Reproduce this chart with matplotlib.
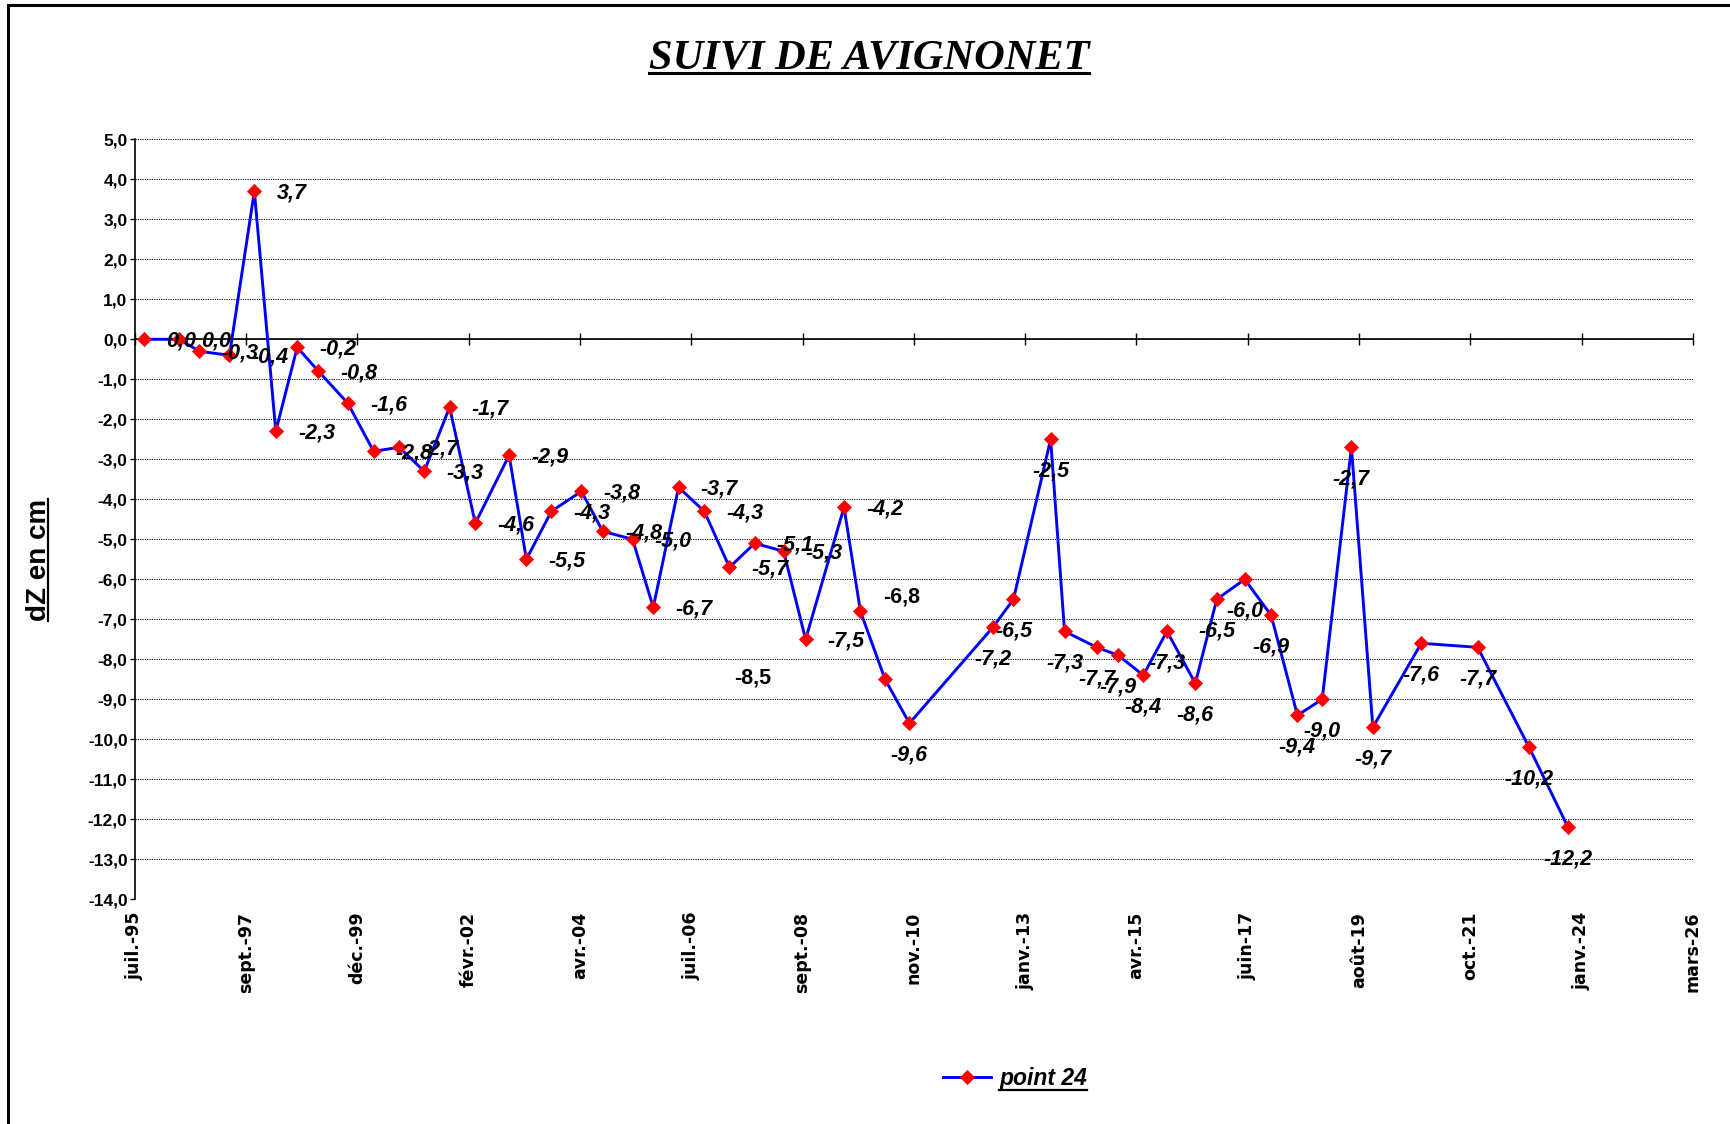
import matplotlib
matplotlib.use("Agg")
import numpy as np
import matplotlib.pyplot as plt
import matplotlib.dates as mdates
from matplotlib.lines import Line2D
from matplotlib.transforms import IdentityTransform

# Survey dates and vertical displacement (cm) of point 24
dates = [
    "1995-10-02", "1996-06-08", "1996-11-01", "1997-06-05", "1997-12-01",
    "1998-05-04", "1998-10-05", "1999-03-07", "1999-10-04", "2000-04-06",
    "2000-10-07", "2001-04-05", "2001-10-04", "2002-04-07", "2002-12-06",
    "2003-04-09", "2003-10-06", "2004-05-09", "2004-10-09", "2005-05-11",
    "2005-10-07", "2006-04-07", "2006-10-09", "2007-04-08", "2007-10-06",
    "2008-05-01", "2008-10-06", "2009-07-09", "2009-11-04", "2010-04-30",
    "2010-10-22", "2012-06-13", "2012-11-08", "2013-08-02", "2013-11-10",
    "2014-06-29", "2014-12-01", "2015-05-30", "2015-11-16", "2016-06-07",
    "2016-11-08", "2017-05-28", "2017-12-04", "2018-06-11", "2018-12-06",
    "2019-07-04", "2019-12-05", "2020-11-17", "2021-12-27", "2023-01-01",
    "2023-10-08",
]
dz = [
    0.0, 0.0, -0.3, -0.4, 3.7, -2.3, -0.2, -0.8, -1.6, -2.8,
    -2.7, -3.3, -1.7, -4.6, -2.9, -5.5, -4.3, -3.8, -4.8, -5.0,
    -6.7, -3.7, -4.3, -5.7, -5.1, -5.3, -7.5, -4.2, -6.8, -8.5,
    -9.6, -7.2, -6.5, -2.5, -7.3, -7.7, -7.9, -8.4, -7.3, -8.6,
    -6.5, -6.0, -6.9, -9.4, -9.0, -2.7, -9.7, -7.6, -7.7, -10.2,
    -12.2,
]
series_name = "point 24"

# Date axis: first tick and spacing in days
axis_start = "1995-07-25"
tick_step_days = 800
tick_labels = ["juil.-95", "sept.-97", "déc.-99", "févr.-02", "avr.-04",
               "juil.-06", "sept.-08", "nov.-10", "janv.-13", "avr.-15",
               "juin-17", "août-19", "oct.-21", "janv.-24", "mars-26"]
y_ticks = list(range(-14, 6))

# Where each value label sits relative to its marker
label_place = ["right"] * 28 + ["right_up", "far_left"] + ["below"] * 21
upright_labels = {28, 29}

PLACEMENT = {
    "right": dict(xytext=(16.0, -1.0), ha="left"),
    "right_up": dict(xytext=(16.0, 10.5), ha="left"),
    "far_left": dict(xytext=(-95.0, 1.0), ha="center"),
    "below": dict(xytext=(0.0, -23.0), ha="center"),
}

W, H = 1730, 1124
fig = plt.figure(figsize=(W / 100, H / 100), dpi=100)
ax_left, ax_right, ax_top, ax_bottom = 134.7, 1693.0, 139.3, 899.3
ax = fig.add_axes([ax_left / W, 1 - ax_bottom / H,
                   (ax_right - ax_left) / W, (ax_bottom - ax_top) / H])

xd = mdates.date2num(np.array(dates, dtype="datetime64[D]"))
tick_dates = np.datetime64(axis_start) + np.arange(len(tick_labels)) * np.timedelta64(tick_step_days, "D")
xt = mdates.date2num(tick_dates)

line, = ax.plot(xd, dz, color="#0000FF", lw=2.1, marker="D", ms=6.8,
                mfc="#FF0000", mec="#FF0000", mew=0.6, zorder=3,
                clip_on=False, label=series_name)

ax.set_xlim(xt[0], xt[-1])
ax.set_ylim(y_ticks[0], y_ticks[-1])

# Horizontal axis crosses at zero, with cross ticks
for s in ("top", "right"):
    ax.spines[s].set_visible(False)
ax.spines["bottom"].set_position(("data", 0))
ax.spines["bottom"].set_linewidth(1.2)
ax.spines["left"].set_linewidth(1.2)
ax.set_xticks(xt)
ax.tick_params(axis="x", direction="inout", length=9, width=1.0,
               labelbottom=False)

ax.set_yticks(y_ticks)
ax.set_yticklabels([f"{v:.1f}".replace(".", ",") for v in y_ticks],
                   family="Liberation Sans", fontweight="bold", fontsize=12.5)
ax.tick_params(axis="y", direction="out", length=3.6, width=1.0, pad=1.5)
ax.yaxis.grid(True, linestyle=(0, (1.2, 1.2)), color="black", lw=0.7)
ax.set_axisbelow(True)

# Date labels along the bottom of the plot area
sec = ax.secondary_xaxis(0)
sec.set_xticks(xt)
sec.set_xticklabels(tick_labels, rotation=90, ha="center", va="top",
                    family="DejaVu Sans", fontweight="bold", fontsize=12.5)
sec.tick_params(length=0, pad=9)
sec.spines["bottom"].set_visible(False)

# Value labels
for i, (xv, yv) in enumerate(zip(xd, dz)):
    p = PLACEMENT[label_place[i]]
    ax.annotate(f"{yv:.1f}".replace(".", ","), (xv, yv),
                xytext=p["xytext"], textcoords="offset points",
                ha=p["ha"], va="center", family="Liberation Sans",
                fontweight="bold",
                fontstyle="normal" if i in upright_labels else "italic",
                fontsize=15.5, zorder=4, annotation_clip=False)

title = fig.text(869 / W, 1 - 58.5 / H, "SUIVI DE AVIGNONET", ha="center",
                 va="center", family="Liberation Serif", fontweight="bold",
                 fontstyle="italic", fontsize=30.5)
ylab = fig.text(38.6 / W, 1 - 560 / H, "dZ en cm", rotation=90, ha="center",
                va="center", family="Liberation Sans", fontweight="bold",
                fontsize=20)

leg = fig.legend(handles=[line], labels=[series_name], loc="center",
                 bbox_to_anchor=(1015 / W, 1 - 1079 / H), frameon=False,
                 handlelength=2.1, handletextpad=0.35, numpoints=1,
                 prop=dict(family="Liberation Sans", weight="bold",
                           style="italic", size=16.5))

# Outer frame (left and top edges)
fig.add_artist(Line2D([8 / W, 8 / W], [0, 1 - 5 / H], color="black", lw=2.2,
                      transform=fig.transFigure))
fig.add_artist(Line2D([8 / W, 1], [1 - 5 / H, 1 - 5 / H], color="black",
                      lw=2.2, transform=fig.transFigure))

# Underlines
fig.canvas.draw()
renderer = fig.canvas.get_renderer()


def underline(t, frac, lw):
    bb = t.get_window_extent(renderer)
    if t.get_rotation() == 90:
        xu = bb.x1 - frac * bb.width
        fig.add_artist(Line2D([xu, xu], [bb.y0, bb.y1], color="black", lw=lw,
                              transform=IdentityTransform()))
    else:
        yu = bb.y0 + frac * bb.height
        fig.add_artist(Line2D([bb.x0, bb.x1], [yu, yu], color="black", lw=lw,
                              transform=IdentityTransform()))


underline(title, 0.12, 2.2)
underline(ylab, 0.12, 1.6)
underline(leg.get_texts()[0], 0.04, 1.6)

fig.savefig("out.png", dpi=100)
